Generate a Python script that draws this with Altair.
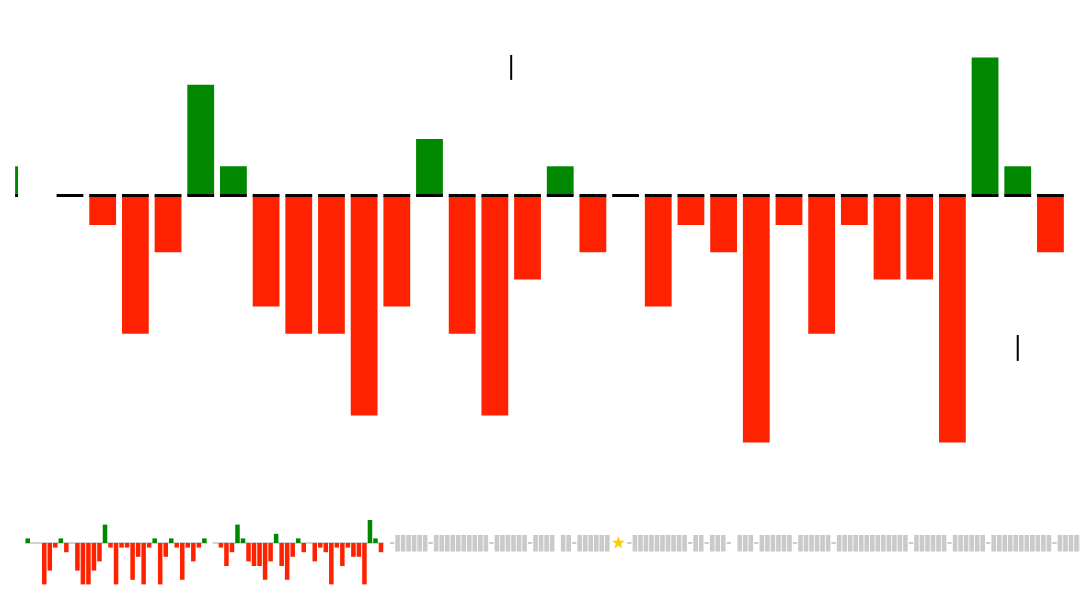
import altair as alt
import pandas as pd

# ---- data -------------------------------------------------------------
# evaluation per move (index n), None = no bar
spark_start = -14
spark_values = [1, 0, 0, -9, -6, -1, 1, -2, 0, -6, -9, -9, -6, -4,
                4, -1, -9, -1, -1, -8, -3, -9, -1, 1, -9, -3, 1, -1, -8, -1, -4, -1, 1, None,
                0, -1, -5, -2, 4, 1, -4, -5, -5, -8, -4, 2, -5, -8, -3, 1, -2, 0,
                -4, -1, -2, -9, -1, -5, -1, -3, -3, -9, 5, 1, -2]
# markers in the main panel: (position, from, to)
marker_pos = [33.5, 49.0]
marker_from = [4.25, -5.13]
marker_to = [5.17, -6.08]
# remaining (future) cells: B = block, - = dash, ' ' = blank, * = star
future_start = 51
future_tokens = (" -" + "B" * 6 + "-" + "B" * 10 + "-" + "B" * 6 + "-" + "B" * 4 + " " + "B" * 2 + "-"
                 + "B" * 6 + " * -" + "B" * 10 + "-" + "B" * 2 + "-" + "B" * 3 + "- " + "B" * 3 + "-"
                 + "B" * 6 + "-" + "B" * 6 + "-" + "B" * 13 + "-" + "B" * 6 + "-" + "B" * 6 + "-"
                 + "B" * 11 + "-" + "B" * 5)

GREEN = "#008800"
RED = "#ff2200"
STAR = ("M0,-1L0.2245,-0.309L0.951,-0.309L0.363,0.118L0.588,0.809L0,0.382"
        "L-0.588,0.809L-0.363,0.118L-0.951,-0.309L-0.2245,-0.309Z")

rows = []
for i, v in enumerate(spark_values):
    n = spark_start + i
    if v is None:
        continue
    rows.append({"n": n, "v": v, "x1": n - 0.41, "x2": n + 0.41,
                 "c": "pos" if v > 0 else "neg"})
bars = pd.DataFrame(rows)
main = bars[bars["n"] >= 18]
pos_main = main[main["v"] > 0]
neg_main = main[main["v"] < 0]
nonzero_spark = bars[bars["v"] != 0]

fut = []
for i, t in enumerate(future_tokens):
    fut.append({"n": future_start + i, "t": t})
fut = pd.DataFrame(fut)
blocks = fut[fut["t"] == "B"]
dashes = fut[fut["t"] == "-"]
stars = fut[fut["t"] == "*"]

markers = pd.DataFrame({"n": marker_pos, "a": marker_from, "b": marker_to})

# ---- scales -----------------------------------------------------------
mx = alt.Scale(domain=[18.32, 51], range=[7.1, 1075.1], clamp=True)
my = alt.Scale(domain=[-10, 5], range=[459.5, 51.5])
sx = alt.Scale(domain=[0, 50], range=[97, 373])
sy = alt.Scale(domain=[-10, 5], range=[581, 512])

color = alt.Color("c:N", scale=alt.Scale(domain=["pos", "neg"], range=[GREEN, RED]), legend=None)

def main_rects(df, off):
    return alt.Chart(df).mark_rect(yOffset=off).encode(
        x=alt.X("x1:Q", scale=mx, axis=None),
        x2="x2:Q",
        y=alt.Y("v:Q", scale=my, axis=None),
        y2=alt.datum(0),
        color=color,
    )

main_pos = main_rects(pos_main, -2)
main_neg = main_rects(neg_main, 2.3)
main_base = alt.Chart(main).transform_calculate(lo="-0.055", hi="0.055").mark_rect(color="#000000").encode(
    x=alt.X("x1:Q", scale=mx, axis=None),
    x2="x2:Q",
    y=alt.Y("lo:Q", scale=my, axis=None),
    y2="hi:Q",
)
main_marks = alt.Chart(markers).mark_rule(color="#000000", strokeWidth=2).encode(
    x=alt.X("n:Q", scale=mx, axis=None),
    y=alt.Y("a:Q", scale=my, axis=None),
    y2="b:Q",
)

spark_base = alt.Chart(bars).transform_calculate(
    lo="-0.17", hi="0.17", a="datum.n - 0.5", b="datum.n + 0.5"
).mark_rect(color="#c4c4c4").encode(
    x=alt.X("a:Q", scale=sx, axis=None),
    x2="b:Q",
    y=alt.Y("lo:Q", scale=sy, axis=None),
    y2="hi:Q",
)
spark_bars = alt.Chart(nonzero_spark).mark_rect().encode(
    x=alt.X("x1:Q", scale=sx, axis=None),
    x2="x2:Q",
    y=alt.Y("v:Q", scale=sy, axis=None),
    y2=alt.datum(0),
    color=color,
)
fut_blocks = alt.Chart(blocks).transform_calculate(
    lo="-1.85", hi="1.75", a="datum.n - 0.42", b="datum.n + 0.42"
).mark_rect(color="#cacaca").encode(
    x=alt.X("a:Q", scale=sx, axis=None),
    x2="b:Q",
    y=alt.Y("lo:Q", scale=sy, axis=None),
    y2="hi:Q",
)
fut_dashes = alt.Chart(dashes).transform_calculate(
    lo="-0.17", hi="0.17", a="datum.n - 0.4", b="datum.n + 0.4"
).mark_rect(color="#bdbdbd").encode(
    x=alt.X("a:Q", scale=sx, axis=None),
    x2="b:Q",
    y=alt.Y("lo:Q", scale=sy, axis=None),
    y2="hi:Q",
)
fut_star = alt.Chart(stars).transform_calculate(z="0").mark_point(
    shape=STAR, filled=True, color="#ffcc00", size=190, opacity=1, strokeWidth=0
).encode(
    x=alt.X("n:Q", scale=sx, axis=None),
    y=alt.Y("z:Q", scale=sy, axis=None),
)

chart = alt.layer(
    main_pos, main_neg, main_base, main_marks, spark_base, spark_bars, fut_blocks, fut_dashes, fut_star
).resolve_scale(x="independent", y="independent").properties(
    width=1072, height=598, padding=0, autosize=alt.AutoSizeParams(type="none")
).configure_view(stroke=None)

chart.save("out.html", embed_options={"renderer": "svg", "actions": False})
